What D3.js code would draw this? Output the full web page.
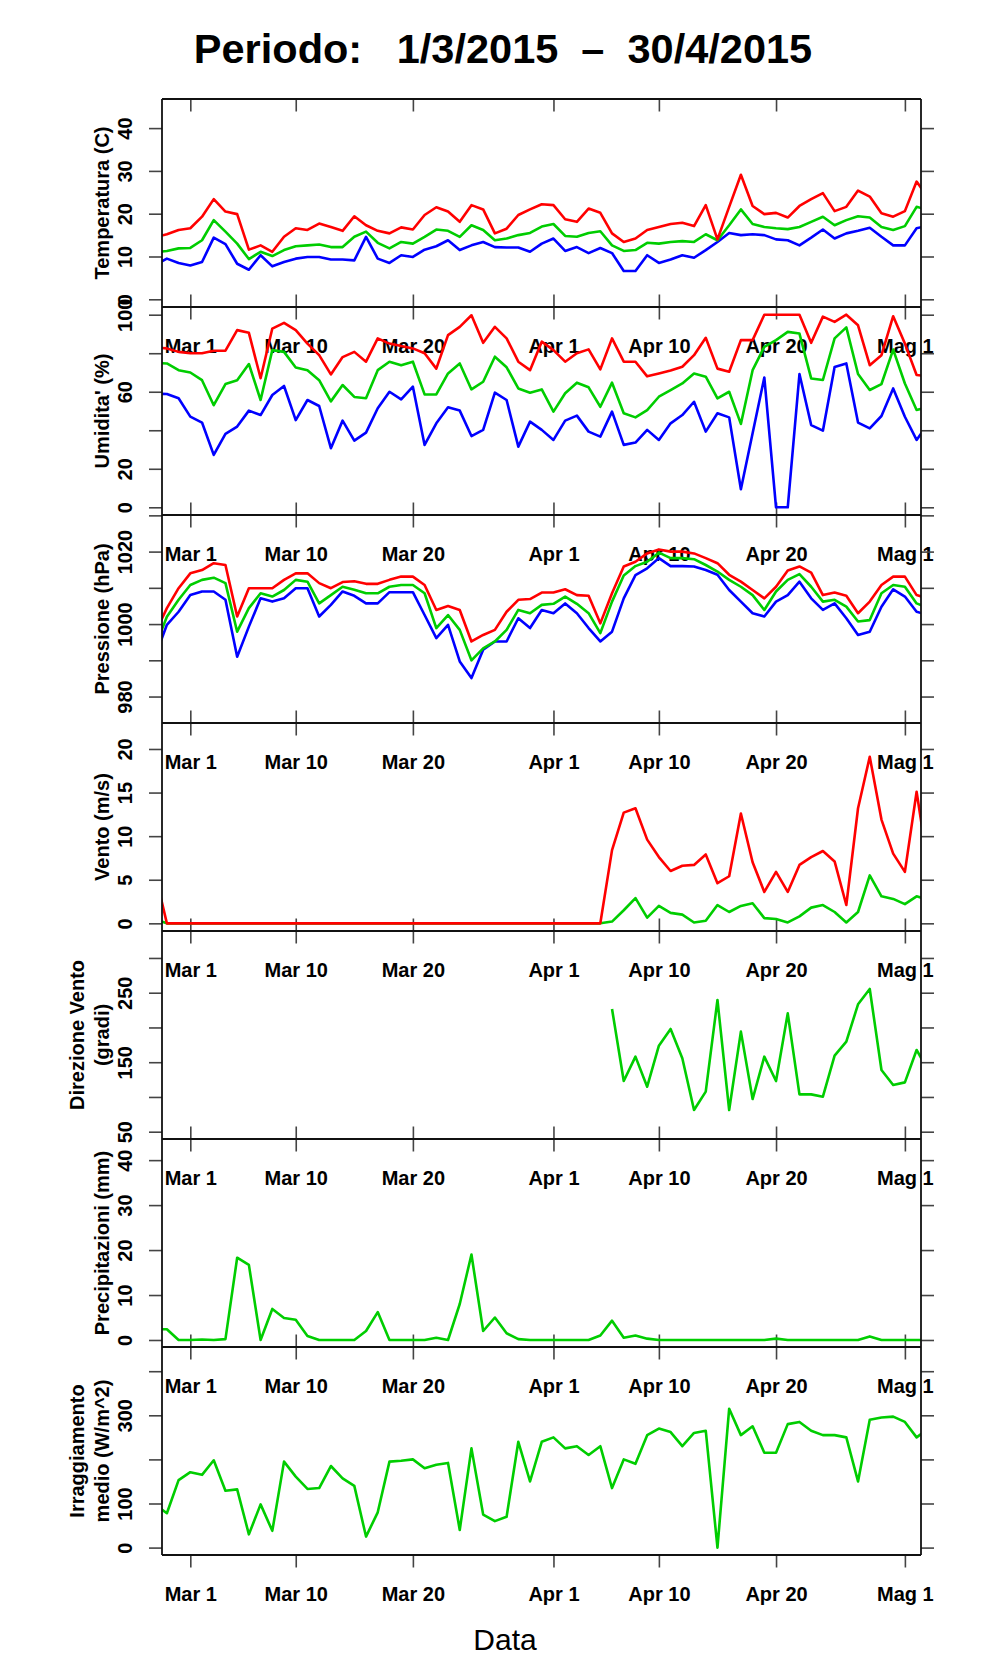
<!DOCTYPE html>
<html>
<head>
<meta charset="utf-8">
<script src="https://cdn.jsdelivr.net/npm/d3@7"></script>
<style>
  body { margin: 0; background: #fff; }
  svg { display: block; }
  text { font-family: "Liberation Sans", Arial, Helvetica, sans-serif; }
</style>
</head>
<body>
<div id="chart"></div>
<script>
// dati giornalieri, dal 26 feb al 3 mag 2015 (i bordi vengono tagliati dal clip)
const firstDay = Date.UTC(2015, 1, 26);

const tempMax = [14.5, 15.2, 16.2, 16.6, 19.3, 23.4, 20.5, 19.9, 11.6, 12.6,
  11.1, 14.6, 16.6, 16.2, 17.7, 16.9, 16.0, 19.4, 17.3, 16.0,
  15.4, 16.8, 16.3, 19.7, 21.5, 20.5, 18.1, 22.0, 21.0, 15.4,
  16.5, 19.7, 21.0, 22.2, 22.0, 18.7, 18.1, 21.2, 20.2, 15.4,
  13.4, 14.2, 16.2, 16.9, 17.6, 17.9, 17.1, 22.0, 14.0, 21.6,
  29.1, 21.8, 19.9, 20.2, 19.1, 21.8, 23.4, 24.8, 20.6, 21.6,
  25.4, 24.0, 20.1, 19.3, 20.6, 27.5, 23.6];
const tempMean = [11.0, 11.3, 11.9, 12.0, 13.8, 18.5, 15.8, 13.0, 9.4, 11.1,
  10.1, 11.5, 12.4, 12.6, 12.8, 12.2, 12.2, 14.6, 15.8, 13.2,
  11.9, 13.4, 13.0, 14.6, 16.3, 16.0, 14.6, 17.3, 16.2, 13.8,
  14.2, 15.0, 15.5, 17.0, 17.6, 14.8, 14.6, 15.5, 15.9, 12.6,
  11.3, 11.5, 13.2, 13.0, 13.4, 13.6, 13.4, 15.2, 13.8, 17.3,
  21.0, 17.6, 16.9, 16.6, 16.4, 16.9, 18.1, 19.3, 17.3, 18.5,
  19.4, 19.1, 16.9, 16.2, 17.1, 21.6, 20.9];
const tempMin = [8.0, 9.5, 8.5, 7.9, 8.7, 14.4, 12.9, 8.3, 6.9, 10.3,
  7.7, 8.7, 9.5, 9.9, 9.9, 9.3, 9.3, 9.1, 14.6, 9.5,
  8.5, 10.3, 9.9, 11.6, 12.4, 13.8, 11.5, 12.6, 13.4, 12.2,
  12.1, 12.1, 11.1, 13.0, 14.2, 11.3, 12.2, 10.8, 12.0, 10.8,
  6.6, 6.6, 10.3, 8.5, 9.3, 10.3, 9.7, 11.5, 13.4, 15.5,
  15.0, 15.2, 15.0, 14.0, 13.8, 12.6, 14.4, 16.3, 14.2, 15.4,
  16.0, 16.7, 14.6, 12.6, 12.6, 16.6, 17.2];

const umidMax = [83, 82.5, 80.7, 80, 80, 81.3, 81.3, 92, 90.6, 67,
  92.8, 95.8, 92, 85, 79, 69, 78, 80.7, 75.6, 87.7,
  85, 83.7, 82.5, 80, 72, 89.4, 93.7, 99.7, 85.4, 93.7,
  87.7, 75.6, 71.2, 86, 81.6, 75.6, 80, 82, 71.6, 87.7,
  75.6, 75.6, 68, 69.5, 71, 73, 79, 88, 72, 70.4,
  86.8, 86.8, 100, 100, 100, 100, 85.4, 99, 96.3, 100,
  94.5, 73.8, 79, 99.2, 85, 68.7, 68];
const umidMean = [75, 74.7, 71.2, 70, 66, 53, 64, 66, 74.4, 55.7,
  81.6, 80.7, 72.6, 71.2, 66, 55, 63.5, 57.3, 56.6, 71.2,
  75.6, 73.8, 75.6, 58.6, 58.6, 69.5, 74.7, 61.2, 65.2, 78.2,
  72.7, 61.7, 59.5, 61.2, 49.7, 59.2, 64.7, 62.3, 52.2, 64.7,
  48.8, 46.7, 50.5, 57.4, 60.9, 64.3, 69.5, 67.8, 56.6, 60,
  43.3, 71.2, 83.3, 86.8, 91.1, 90.2, 66.9, 66.1, 87.7, 93.4,
  69.2, 60.9, 64, 81.9, 64.3, 50.5, 52];
const umidMin = [59, 58.8, 56.6, 47.1, 44, 27.2, 38.1, 41.9, 50.2, 47.9,
  58.3, 63, 45.3, 55.7, 52.6, 30.7, 45, 34.6, 38.8, 51.4,
  60, 56, 62.6, 32.4, 43.6, 51.9, 50.2, 37, 40.2, 59.5,
  55.7, 31.5, 44.5, 40.2, 35, 45, 47.6, 39.3, 36.7, 49.7,
  32.4, 33.6, 40.2, 35, 43.6, 47.9, 54.8, 39.3, 48.8, 46.7,
  9.4, 38.4, 67.4, 0, 0, 69.2, 42.7, 39.8, 72.9, 74.7,
  44, 41, 47.4, 61.7, 47, 35, 43.6];

const pressMax = [997.5, 1004.4, 1009.9, 1014, 1014.9, 1016.8, 1016.3, 1002.1, 1009.9, 1009.9,
  1009.9, 1012.2, 1014, 1014, 1011.3, 1009.9, 1011.6, 1011.8, 1011.1, 1011.1,
  1012.2, 1013.1, 1013.1, 1010.8, 1003.9, 1005, 1003.9, 995.2, 997, 998.4,
  1003.4, 1006.7, 1006.9, 1008.7, 1008.7, 1009.6, 1008, 1007.8, 1000.2, 1008.5,
  1015.9, 1017.2, 1019.5, 1020.6, 1020, 1020, 1019.5, 1018.2, 1016.8, 1013.6,
  1011.7, 1009.4, 1007.1, 1010.3, 1014.8, 1015.9, 1014.2, 1008, 1008.7, 1007.8,
  1003, 1006.2, 1010.8, 1013.1, 1013.1, 1008, 1007];
const pressMean = [993.8, 1002, 1006.7, 1010.8, 1012.2, 1012.8, 1011.3, 997.9, 1004.4, 1008.5,
  1007.6, 1009.4, 1012.2, 1011.7, 1005.7, 1008, 1010.3, 1009.5, 1008.5, 1008.5,
  1010.3, 1010.8, 1010.8, 1008.5, 998.9, 1002.5, 998.4, 990, 993.3, 995.2,
  998.4, 1003.9, 1003, 1005.3, 1005.6, 1007.6, 1005.6, 1003, 997.5, 1006.2,
  1013.4, 1016, 1017.2, 1019.7, 1018.2, 1018.2, 1017.9, 1016.3, 1014.5, 1012.2,
  1010.3, 1008, 1003.9, 1009, 1012.2, 1013.8, 1010.3, 1006.2, 1006.7, 1004.8,
  1000.7, 1001.1, 1008.5, 1010.8, 1010.3, 1005.7, 1004.4];
const pressMin = [991, 999.8, 1003.4, 1008, 1009, 1009, 1006.7, 991, 999.3, 1007.1,
  1006.2, 1007.1, 1009.9, 1009.9, 1002.1, 1005.3, 1009, 1007.8, 1005.7, 1005.7,
  1008.8, 1008.8, 1008.8, 1002.5, 996.1, 999.8, 989.7, 985.1, 992.9, 995.2,
  995.2, 1001.6, 998.9, 1003.9, 1003, 1005.7, 1003, 998.9, 995.2, 997.9,
  1007.1, 1013.5, 1015.4, 1018.2, 1016, 1016, 1015.9, 1014.9, 1013.6, 1009.4,
  1006.2, 1003, 1002.1, 1006.2, 1008, 1011.7, 1007.1, 1003.9, 1005.7, 1001.6,
  997, 997.9, 1004.8, 1009.6, 1007.6, 1003.4, 1002.5];

const ventoMax = [5.7, 0, 0, 0, 0, 0, 0, 0, 0, 0,
  0, 0, 0, 0, 0, 0, 0, 0, 0, 0,
  0, 0, 0, 0, 0, 0, 0, 0, 0, 0,
  0, 0, 0, 0, 0, 0, 0, 0, 0, 8.4,
  12.7, 13.2, 9.6, 7.6, 6, 6.6, 6.7, 7.9, 4.6, 5.4,
  12.6, 7, 3.6, 5.9, 3.6, 6.7, 7.6, 8.3, 7.1, 2.1,
  13.2, 19.1, 11.9, 8, 5.9, 15.1, 6.3];
const ventoMean = [0.5, 0, 0, 0, 0, 0, 0, 0, 0, 0,
  0, 0, 0, 0, 0, 0, 0, 0, 0, 0,
  0, 0, 0, 0, 0, 0, 0, 0, 0, 0,
  0, 0, 0, 0, 0, 0, 0, 0, 0, 0.2,
  1.5, 2.9, 0.65, 2, 1.2, 1, 0.1, 0.3, 2.1, 1.3,
  2, 2.3, 0.6, 0.5, 0.1, 0.8, 1.8, 2.1, 1.3, 0.1,
  1.3, 5.5, 3.1, 2.8, 2.2, 3.1, 2.7];

// direzione: nessun dato finche' il vento e' nullo
const direzione = [null, null, null, null, null, null, null, null, null, null,
  null, null, null, null, null, null, null, null, null, null,
  null, null, null, null, null, null, null, null, null, null,
  null, null, null, null, null, null, null, null, null, 226.6,
  122.9, 158, 114.8, 173.8, 197.8, 155.6, 81.2, 107.6, 239.5, 81.2,
  194, 97, 158, 122.9, 220.3, 103.7, 103.7, 100.4, 159.4, 179.6,
  233.3, 255.4, 138.8, 117.2, 121, 167.6, 137.8];

const pioggia = [2.4, 2.4, 0, 0, 0.1, 0, 0.2, 18.3, 16.7, 0,
  6.9, 4.9, 4.5, 0.9, 0, 0, 0, 0, 2, 6.2,
  0, 0, 0, 0, 0.5, 0, 8, 19, 2, 5,
  1.5, 0.2, 0, 0, 0, 0, 0, 0, 1, 4.3,
  0.5, 1, 0.3, 0, 0, 0, 0, 0, 0, 0,
  0, 0, 0, 0.3, 0, 0, 0, 0, 0, 0,
  0, 0.8, 0, 0, 0, 0, 0];

const irraggiamento = [97.5, 78, 153, 171, 165, 198, 129, 132, 30, 98,
  38, 195, 161, 133, 135, 185, 157, 140, 25, 80,
  195, 197, 200, 180, 188, 192, 40, 225, 75, 60,
  70, 240, 150, 240, 250, 225, 230, 210, 230, 135,
  200, 190, 255, 270, 262, 230, 260, 265, 0, 315,
  255, 275, 215, 215, 280, 285, 265, 255, 255, 250,
  150, 290, 295, 297, 285, 250, 270];

// etichette asse x
const xTickDates = [Date.UTC(2015, 2, 1), Date.UTC(2015, 2, 10), Date.UTC(2015, 2, 20),
  Date.UTC(2015, 3, 1), Date.UTC(2015, 3, 10), Date.UTC(2015, 3, 20), Date.UTC(2015, 4, 1)];
const xTickLabels = ["Mar 1", "Mar 10", "Mar 20", "Apr 1", "Apr 10", "Apr 20", "Mag 1"];

const days = tempMax.map((_, i) => d3.utcDay.offset(new Date(firstDay), i));

// pannelli
const panels = [
  { title: ["Temperatura (C)"], domain: [-1.8, 46.8], ticks: [0, 10, 20, 30, 40], labels: [0, 10, 20, 30, 40],
    series: [[tempMin, "#0000ff"], [tempMean, "#00cd00"], [tempMax, "#ff0000"]] },
  { title: ["Umidita' (%)"], domain: [-4, 104], ticks: [0, 20, 40, 60, 80, 100], labels: [0, 20, 60, 100],
    series: [[umidMin, "#0000ff"], [umidMean, "#00cd00"], [umidMax, "#ff0000"]] },
  { title: ["Pressione (hPa)"], domain: [972.7, 1030.1], ticks: [980, 990, 1000, 1010, 1020, 1030], labels: [980, 1000, 1020],
    series: [[pressMin, "#0000ff"], [pressMean, "#00cd00"], [pressMax, "#ff0000"]] },
  { title: ["Vento (m/s)"], domain: [-0.88, 22.98], ticks: [0, 5, 10, 15, 20], labels: [0, 5, 10, 15, 20],
    series: [[ventoMean, "#00cd00"], [ventoMax, "#ff0000"]] },
  { title: ["Direzione Vento", "(gradi)"], domain: [39.5, 338.8], ticks: [50, 100, 150, 200, 250, 300], labels: [50, 150, 250],
    series: [[direzione, "#00cd00"]] },
  { title: ["Precipitazioni (mm)"], domain: [-1.56, 44.7], ticks: [0, 10, 20, 30, 40], labels: [0, 10, 20, 30, 40],
    series: [[pioggia, "#00cd00"]] },
  { title: ["Irraggiamento", "medio (W/m^2)"], domain: [-16.8, 454.9], ticks: [0, 100, 200, 300, 400], labels: [0, 100, 300],
    series: [[irraggiamento, "#00cd00"]] }
];

const width = 996, height = 1680;
const left = 162, right = 921, top0 = 99, panelH = 208;
const bottom = top0 + panelH * panels.length;
const tickColor = "#444";

const svg = d3.select("#chart").append("svg")
  .attr("width", width).attr("height", height)
  .attr("viewBox", [0, 0, width, height]);

const x = d3.scaleUtc()
  .domain([d3.utcHour.offset(new Date(xTickDates[0]), -57.6), d3.utcHour.offset(new Date(Date.UTC(2015, 3, 30)), 57.6)])
  .range([left, right]);

// titolo
svg.append("text")
  .attr("x", 503).attr("y", 63)
  .attr("text-anchor", "middle")
  .style("white-space", "pre")
  .attr("font-size", 41.5).attr("font-weight", "bold")
  .text("Periodo:   1/3/2015  \u2013  30/4/2015");

function styleAxis(g) {
  g.select(".domain").remove();
  g.selectAll(".tick line").attr("stroke", tickColor).attr("stroke-width", 1.6);
}

// tacche asse x su tutti i bordi
for (let i = 0; i <= panels.length; i++) {
  const yb = top0 + panelH * i;
  const down = svg.append("g").attr("transform", `translate(0,${yb})`)
    .call(d3.axisBottom(x).tickValues(xTickDates.map(t => new Date(t)))
      .tickSize(12.5).tickPadding(19)
      .tickFormat(i === 0 ? "" : (d, k) => xTickLabels[k]))
    .call(styleAxis);
  down.selectAll("text").attr("font-size", 20).attr("font-weight", "bold").attr("fill", "#000");
  if (i > 0 && i < panels.length) {
    svg.append("g").attr("transform", `translate(0,${yb})`)
      .call(d3.axisTop(x).tickValues(xTickDates.map(t => new Date(t))).tickSize(12.5).tickFormat(""))
      .call(styleAxis);
  }
}

panels.forEach((p, i) => {
  const top = top0 + panelH * i;
  const y = d3.scaleLinear().domain(p.domain).range([top + panelH, top]);

  // asse y sinistro
  const ax = svg.append("g").attr("transform", `translate(${left},0)`)
    .call(d3.axisLeft(y).tickValues(p.ticks).tickSize(13)
      .tickFormat(d => p.labels.includes(d) ? d : ""))
    .call(styleAxis);
  ax.selectAll("text")
    .attr("x", 0).attr("y", -30).attr("dy", null)
    .attr("transform", "rotate(-90)")
    .attr("text-anchor", "middle")
    .attr("font-size", 20).attr("font-weight", "bold").attr("fill", "#000");

  // asse y destro (solo tacche)
  svg.append("g").attr("transform", `translate(${right},0)`)
    .call(d3.axisRight(y).tickValues(p.ticks).tickSize(13).tickFormat(""))
    .call(styleAxis);

  // titolo asse y
  const cy = top + panelH / 2;
  const lines = p.title;
  lines.forEach((t, k) => {
    const bx = 109 - (lines.length - 1 - k) * 25;
    svg.append("text")
      .attr("transform", `translate(${bx},${cy}) rotate(-90)`)
      .attr("text-anchor", "middle")
      .attr("font-size", 20).attr("font-weight", "bold")
      .text(t);
  });

  // linee dei dati
  const clipId = "clip" + i;
  svg.append("clipPath").attr("id", clipId)
    .append("rect").attr("x", left).attr("y", top).attr("width", right - left).attr("height", panelH);

  const line = d3.line()
    .defined(v => v != null)
    .x((v, k) => x(days[k]))
    .y(v => y(v));

  const g = svg.append("g").attr("clip-path", `url(#${clipId})`);
  p.series.forEach(([vals, col]) => {
    g.append("path")
      .attr("d", line(vals))
      .attr("fill", "none")
      .attr("stroke", col)
      .attr("stroke-width", 2.6)
      .attr("stroke-linejoin", "round");
  });
});

// bordi dei pannelli
for (let i = 0; i <= panels.length; i++) {
  const yb = top0 + panelH * i;
  svg.append("line").attr("x1", left).attr("x2", right).attr("y1", yb).attr("y2", yb)
    .attr("stroke", "#111").attr("stroke-width", 2);
}
[left, right].forEach(xv => {
  svg.append("line").attr("x1", xv).attr("x2", xv).attr("y1", top0).attr("y2", bottom)
    .attr("stroke", "#111").attr("stroke-width", 1.8);
});

// etichetta asse x
svg.append("text")
  .attr("x", 505).attr("y", 1650)
  .attr("text-anchor", "middle")
  .attr("font-size", 30)
  .text("Data");
</script>
</body>
</html>
